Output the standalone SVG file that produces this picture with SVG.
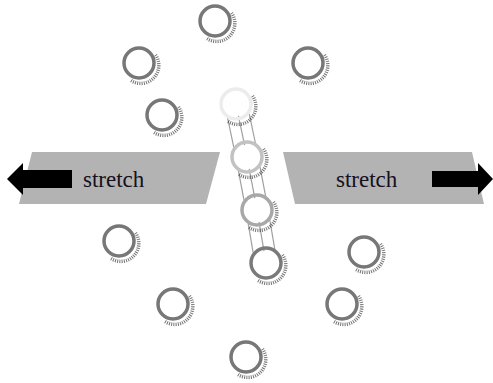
<svg xmlns="http://www.w3.org/2000/svg" width="493" height="383" viewBox="0 0 493 383">
<style>
.ring{fill:none;stroke-width:3.5}
.sh{fill:none;stroke:#000;stroke-width:3.5;stroke-dasharray:1 1.2;opacity:0.55}
.band{fill:#b3b3b3}
.rail{stroke:#a0a0a0;stroke-width:1.2;fill:none}
.lbl{font-family:"Liberation Serif","DejaVu Serif","Times New Roman",serif;font-size:23px;fill:#151020}
</style>
<defs>
<path id="ringTpl" class="sh" d="M16.5,-8 A18 18 0 0 1 -8 17.5"/>
</defs>
<rect width="493" height="383" fill="#fff"/>
<g id="band-left">
<polygon class="band" points="32,152 220,152 206,204 19,204"/>
<polygon points="72,170 23,170 23,163 7,179 23,195 23,188 72,188" fill="#000"/>
<text class="lbl" x="83" y="187">stretch</text>
</g>
<g id="band-right">
<polygon class="band" points="283,152 472,152 484,204 295,204"/>
<polygon points="432,171 478,171 478,163 493,179 478,195 478,187 432,187" fill="#000"/>
<text class="lbl" x="336" y="187">stretch</text>
</g>
<g id="connectors">
<line class="rail" x1="227.6" y1="118" x2="233.8" y2="147.4"/>
<line class="rail" x1="238.4" y1="115.8" x2="244.6" y2="145.2"/>
<line class="rail" x1="249.2" y1="113.6" x2="255.4" y2="143"/>
<line class="rail" x1="238.4" y1="170.8" x2="244" y2="200.2"/>
<line class="rail" x1="249.2" y1="168.8" x2="254.8" y2="198.2"/>
<line class="rail" x1="260" y1="166.8" x2="265.6" y2="196.2"/>
<line class="rail" x1="248.2" y1="223.6" x2="253.2" y2="253"/>
<line class="rail" x1="259" y1="221.8" x2="264" y2="251.2"/>
<line class="rail" x1="269.8" y1="220" x2="274.8" y2="249.4"/>
</g>
<g id="n-top"><use href="#ringTpl" x="215" y="21"/><circle class="ring" cx="215" cy="21" r="15" stroke="#777"/></g>
<g id="n-ul"><use href="#ringTpl" x="139" y="63"/><circle class="ring" cx="139" cy="63" r="15" stroke="#777"/></g>
<g id="n-ur"><use href="#ringTpl" x="308" y="63"/><circle class="ring" cx="308" cy="63" r="15" stroke="#777"/></g>
<g id="n-ml"><use href="#ringTpl" x="162" y="115"/><circle class="ring" cx="162" cy="115" r="15" stroke="#777"/></g>
<g id="n-c1"><use href="#ringTpl" x="236" y="104"/><circle class="ring" cx="236" cy="104" r="15" stroke="#ececec"/></g>
<g id="n-c2"><use href="#ringTpl" x="247" y="157"/><circle class="ring" cx="247" cy="157" r="15" stroke="#c2c2c2"/></g>
<g id="n-c3"><use href="#ringTpl" x="257" y="210"/><circle class="ring" cx="257" cy="210" r="15" stroke="#a8a8a8"/></g>
<g id="n-c4"><use href="#ringTpl" x="266" y="263"/><circle class="ring" cx="266" cy="263" r="15" stroke="#7a7a7a"/></g>
<g id="n-l"><use href="#ringTpl" x="119" y="241"/><circle class="ring" cx="119" cy="241" r="15" stroke="#777"/></g>
<g id="n-r"><use href="#ringTpl" x="364" y="252"/><circle class="ring" cx="364" cy="252" r="15" stroke="#777"/></g>
<g id="n-ll"><use href="#ringTpl" x="173" y="304"/><circle class="ring" cx="173" cy="304" r="15" stroke="#777"/></g>
<g id="n-lr"><use href="#ringTpl" x="342" y="304"/><circle class="ring" cx="342" cy="304" r="15" stroke="#777"/></g>
<g id="n-bot"><use href="#ringTpl" x="246" y="357"/><circle class="ring" cx="246" cy="357" r="15" stroke="#777"/></g>
</svg>
